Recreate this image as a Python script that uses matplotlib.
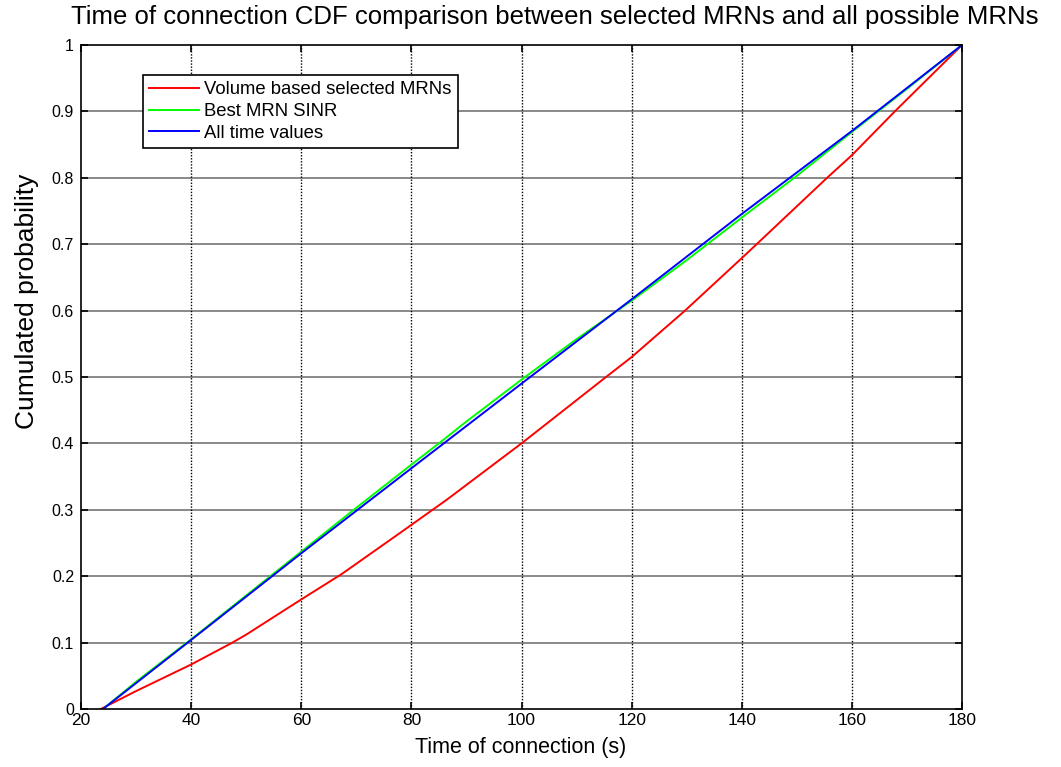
import matplotlib
matplotlib.use("Agg")
import matplotlib.pyplot as plt
from matplotlib import font_manager

# Connection time (s) and cumulative probability for each strategy
volume_x = [23.6, 30, 40, 47.5, 50, 60, 67.3, 78, 86.4, 100, 115.2, 120, 129.7, 140, 142.7, 155.5, 160, 167.8, 180]
volume_y = [0.0, 0.027, 0.067, 0.100, 0.112, 0.165, 0.203, 0.2655, 0.315, 0.400, 0.499, 0.530, 0.600, 0.679, 0.700, 0.800, 0.834, 0.900, 1.0]

sinr_x = [24, 30, 40, 60, 70, 80, 85, 90, 100, 110, 120, 130, 140, 150, 160, 170, 180]
sinr_y = [0.0, 0.041, 0.105, 0.237, 0.303, 0.368, 0.400, 0.433, 0.496, 0.557, 0.615, 0.676, 0.740, 0.803, 0.869, 0.934, 1.0]

all_x = [24, 40, 60, 80, 100, 120, 140, 160, 180]
all_y = [0.0, 0.104, 0.2345, 0.3625, 0.490, 0.617, 0.7455, 0.8705, 1.0]

x_ticks = [20, 40, 60, 80, 100, 120, 140, 160, 180]
y_ticks = [0, 0.1, 0.2, 0.3, 0.4, 0.5, 0.6, 0.7, 0.8, 0.9, 1]
y_tick_labels = ["0", "0.1", "0.2", "0.3", "0.4", "0.5", "0.6", "0.7", "0.8", "0.9", "1"]

installed = {f.name for f in font_manager.fontManager.ttflist}
regular = "Liberation Sans" if "Liberation Sans" in installed else "DejaVu Sans"
narrow = "Liberation Sans Narrow" if "Liberation Sans Narrow" in installed else regular

W, H = 1061, 767
fig = plt.figure(figsize=(W / 100, H / 100), dpi=100)
fig.patch.set_facecolor("white")
ax = fig.add_axes([81 / W, 1 - 709 / H, 881 / W, 664 / H])

ax.plot(volume_x, volume_y, color="#ff0000", lw=1.4, label="Volume based selected MRNs")
ax.plot(sinr_x, sinr_y, color="#00ff00", lw=1.4, label="Best MRN SINR")
ax.plot(all_x, all_y, color="#0000ff", lw=1.4, label="All time values")

ax.set_xlim(20, 180)
ax.set_ylim(0, 1)
ax.set_xticks(x_ticks)
ax.set_yticks(y_ticks)
ax.set_yticklabels(y_tick_labels)

# Grid: solid grey horizontals, dotted black verticals
for y in y_ticks[1:-1]:
    ax.axhline(y, color="#808080", lw=1.3, zorder=0.5)
for x in x_ticks[1:-1]:
    ax.axvline(x, color="black", lw=1.0, ls=(0, (1, 1.2)), zorder=0.5)

for s in ax.spines.values():
    s.set_color("black")
    s.set_linewidth(1.2)

ax.tick_params(direction="in", length=5, width=1.2, top=True, right=True, colors="black")
for lab in ax.get_xticklabels():
    lab.set_fontfamily(narrow)
    lab.set_fontsize(12.5)
for lab in ax.get_yticklabels():
    lab.set_fontfamily(regular)
    lab.set_fontsize(11.5)
ax.tick_params(axis="x", pad=3)
ax.tick_params(axis="y", pad=5)

fig.text(555 / W, 1 - 17 / H,
         "Time of connection CDF comparison between selected MRNs and all possible MRNs",
         ha="center", va="center", fontsize=18.5, family=narrow)
fig.text(521 / W, 1 - 748 / H, "Time of connection (s)",
         ha="center", va="center", fontsize=15.5, family=narrow)
fig.text(27 / W, 1 - 301 / H, "Cumulated probability",
         ha="center", va="center", rotation=90, fontsize=19, family=regular)

leg = ax.legend(loc="upper left", bbox_to_anchor=(143 / W, 1 - 75 / H),
                bbox_transform=fig.transFigure, borderaxespad=0,
                fancybox=False, framealpha=1, edgecolor="black",
                prop={"family": regular, "size": 13.3}, handlelength=2.7,
                handletextpad=0.25, labelspacing=0.25, borderpad=0.35)
leg.get_frame().set_linewidth(1.2)

fig.savefig("out.png", dpi=100, facecolor="white")
